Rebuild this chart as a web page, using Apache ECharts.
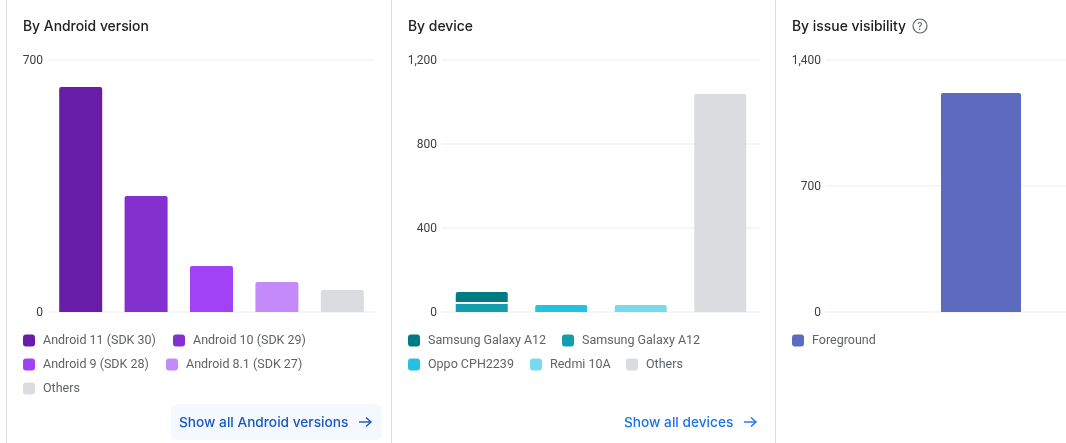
<!DOCTYPE html>
<html>
<head>
<meta charset="utf-8">
<style>html,body{margin:0;padding:0;background:#fff}#c{width:1066px;height:443px}</style>
<script src="https://cdn.jsdelivr.net/npm/echarts@6/dist/echarts.min.js"></script>
</head>
<body>
<div id="c"></div>
<script>
const FONT = 'Inter';
const BODY_FONT = 'Roboto';
const androidNames = ['Android 11 (SDK 30)', 'Android 10 (SDK 29)', 'Android 9 (SDK 28)', 'Android 8.1 (SDK 27)', 'Others'];
const androidValues = [625, 322, 128, 83, 61];
const androidColors = ['#681da8', '#8430ce', '#a142f4', '#c58af9', '#dadce0'];

const deviceCategories = ['Samsung Galaxy A12', 'Oppo CPH2239', 'Redmi 10A', 'Others'];
const samsungLower = 38;
const samsungGap = 10;
const samsungUpper = 47;
const oppoValue = 33;
const redmiValue = 33;
const deviceOthers = 1038;
const deviceColors = ['#007b83', '#129eaf', '#24c1e0', '#78d9ec', '#dadce0'];

const visibilityNames = ['Foreground'];
const visibilityValues = [1217];
const visibilityColor = '#5c6bc0';

const androidTicks = {max: 700, interval: 700};
const deviceTicks = {max: 1200, interval: 400};
const visibilityTicks = {max: 1400, interval: 700};

const grids = [
  {left: 48, top: 60, width: 327, height: 252, outerBoundsMode: 'none'},
  {left: 442, top: 60, width: 318, height: 252, outerBoundsMode: 'none'},
  {left: 826, top: 60, width: 310, height: 252, outerBoundsMode: 'none'}
];
const xAxes = [androidNames, deviceCategories, visibilityNames].map((d, i) => ({
  type: 'category', gridIndex: i, data: d, show: false
}));
const yAxes = [androidTicks, deviceTicks, visibilityTicks].map((t, i) => ({
  type: 'value', gridIndex: i, min: 0, max: t.max, interval: t.interval,
  axisLine: {show: false}, axisTick: {show: false},
  axisLabel: {color: '#3c4043', fontSize: 12, fontFamily: BODY_FONT, margin: 5,
    verticalAlign: 'top', padding: [-5, 0, 0, 0],
    formatter: v => v.toLocaleString('en-US')},
  splitLine: {show: true, lineStyle: {color: '#f1f3f4', width: 1.5}}
}));
const radius = [2, 2, 0, 0];
const series = [];
androidNames.forEach((n, i) => series.push({
  type: 'bar', name: n, xAxisIndex: 0, yAxisIndex: 0, stack: 'android', barWidth: 43,
  itemStyle: {color: androidColors[i], borderRadius: radius},
  data: androidNames.map((_, j) => j === i ? androidValues[i] : '-')
}));
function deviceBar(name, cat, val, color, rad) {
  series.push({
    type: 'bar', name, xAxisIndex: 1, yAxisIndex: 1, stack: 'device', barWidth: 52,
    itemStyle: {color, borderRadius: rad || 0},
    data: deviceCategories.map((_, j) => j === cat ? val : '-')
  });
}
deviceBar('Samsung Galaxy A12', 0, samsungLower, deviceColors[1]);
deviceBar('spacer', 0, samsungGap, 'rgba(0,0,0,0)');
deviceBar('Samsung Galaxy A12 ', 0, samsungUpper, deviceColors[0], radius);
deviceBar('Oppo CPH2239', 1, oppoValue, deviceColors[2], radius);
deviceBar('Redmi 10A', 2, redmiValue, deviceColors[3], radius);
deviceBar('Others ', 3, deviceOthers, deviceColors[4], radius);
series.push({
  type: 'bar', name: 'Foreground', xAxisIndex: 2, yAxisIndex: 2, barWidth: 80,
  itemStyle: {color: visibilityColor, borderRadius: radius}, data: visibilityValues
});

const legendItems = [
  ['Android 11 (SDK 30)', androidColors[0], 23, 334],
  ['Android 10 (SDK 29)', androidColors[1], 173, 334],
  ['Android 9 (SDK 28)', androidColors[2], 23, 358],
  ['Android 8.1 (SDK 27)', androidColors[3], 166, 358],
  ['Others', androidColors[4], 23, 382],
  ['Samsung Galaxy A12 ', deviceColors[0], 408, 334],
  ['Samsung Galaxy A12', deviceColors[1], 562, 334],
  ['Oppo CPH2239', deviceColors[2], 408, 358],
  ['Redmi 10A', deviceColors[3], 530, 358],
  ['Others ', deviceColors[4], 626, 358],
  ['Foreground', visibilityColor, 792, 334]
];
const legends = legendItems.map(([name, color, left, top]) => ({
  left, top, orient: 'horizontal', padding: 0, itemWidth: 12, itemHeight: 12, selectedMode: false,
  icon: 'roundRect',
  data: [{name, itemStyle: {color}}],
  textStyle: {color: '#5f6368', fontSize: 12.5, fontFamily: BODY_FONT, padding: [0, 0, 0, 3]},
  formatter: n => n.trim()
}));

const titles = [['By Android version', 23], ['By device', 408], ['By issue visibility', 792]].map(([text, left]) => ({
  text, left, top: 20, padding: 0,
  textStyle: {color: '#202124', fontSize: 13.9, fontWeight: 500, fontFamily: FONT}
}));

function vline(x) {
  return {type: 'line', shape: {x1: x, y1: 0, x2: x, y2: 443}, style: {stroke: '#dadce0', lineWidth: 1}, silent: true};
}
function arrow(x, y, color) {
  return {type: 'polyline', shape: {points: [[x, y], [x + 12, y]]}, style: {stroke: color, lineWidth: 1.4, fill: null}};
}
function arrowHead(x, y, color) {
  return {type: 'polyline', shape: {points: [[x + 7, y - 4.5], [x + 12, y], [x + 7, y + 4.5]]}, style: {stroke: color, lineWidth: 1.4, fill: null}};
}
const graphic = [
  vline(6.5), vline(391.5), vline(775.5),
  {type: 'rect', shape: {x: 171, y: 404, width: 211, height: 36, r: 6}, style: {fill: '#f5f8fe'}},
  {type: 'text', x: 179, y: 423, style: {text: 'Show all Android versions', fill: '#185abc', font: '500 13.7px ' + FONT, textVerticalAlign: 'middle'}},
  arrow(359, 422, '#185abc'), arrowHead(359, 422, '#185abc'),
  {type: 'text', x: 624, y: 423, style: {text: 'Show all devices', fill: '#1a73e8', font: '500 13.7px ' + FONT, textVerticalAlign: 'middle'}},
  arrow(744, 422, '#1a73e8'), arrowHead(744, 422, '#1a73e8'),
  {type: 'circle', shape: {cx: 920, cy: 26, r: 7}, style: {stroke: '#5f6368', lineWidth: 1.2, fill: null}},
  {type: 'text', x: 920, y: 26.5, style: {text: '?', fill: '#5f6368', font: '500 10px ' + FONT, textAlign: 'center', textVerticalAlign: 'middle'}}
];

const chart = echarts.init(document.getElementById('c'), null, {renderer: 'canvas'});
chart.setOption({
  animation: false, backgroundColor: '#fff', tooltip: {show: false},
  title: titles, grid: grids, xAxis: xAxes, yAxis: yAxes, legend: legends, series, graphic
});
</script>
</body>
</html>
